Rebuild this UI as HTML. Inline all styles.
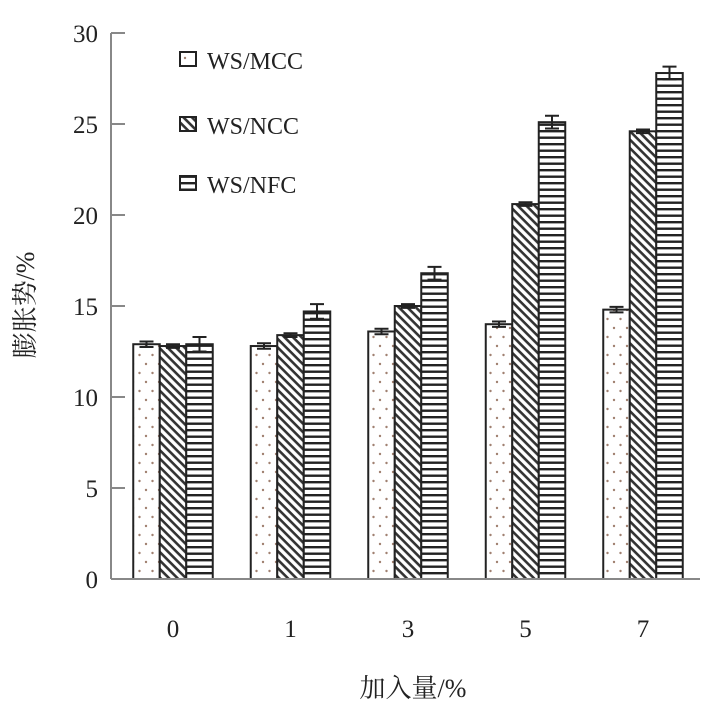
<!DOCTYPE html>
<html><head><meta charset="utf-8"><style>
body{margin:0;background:#fff;width:716px;height:711px;overflow:hidden}
text{font-family:"Liberation Serif","Noto Serif CJK SC",serif;fill:#222}
</style></head><body>
<svg id="chart" width="716" height="711" viewBox="0 0 716 711" xmlns="http://www.w3.org/2000/svg">
<defs>
<pattern id="pDots" width="13" height="18" patternUnits="userSpaceOnUse"><rect width="13" height="18" fill="#fff"/><circle cx="3" cy="4" r="1.2" fill="#a08070"/><circle cx="9.5" cy="13" r="1.2" fill="#a08070"/></pattern>
<pattern id="pDiag" width="6" height="6" patternUnits="userSpaceOnUse" patternTransform="rotate(45)"><rect width="6" height="6" fill="#fff"/><rect x="0" y="0" width="6" height="2.6" fill="#333"/></pattern>
<pattern id="pHor" width="6" height="6.5" patternUnits="userSpaceOnUse"><rect width="6" height="6.5" fill="#fff"/><rect x="0" y="0" width="6" height="2.4" fill="#222"/></pattern>
</defs>
<g id="bars"></g>
<g id="axes"></g>
<g id="legend">
<g><rect x="180" y="52" width="16" height="14" fill="url(#pDots)" stroke="#222" stroke-width="2"/><text x="207" y="69" font-size="24">WS/MCC</text></g>
<g><rect x="180" y="117" width="16" height="14" fill="url(#pDiag)" stroke="#222" stroke-width="2"/><text x="207" y="134" font-size="24">WS/NCC</text></g>
<g><rect x="180" y="176" width="16" height="14" fill="url(#pHor)" stroke="#222" stroke-width="2"/><text x="207" y="193" font-size="24">WS/NFC</text></g>
</g>
<text x="0" y="0" font-size="26" text-anchor="middle" transform="translate(34,305) rotate(-90)">膨胀势/%</text>
<text x="413" y="697" font-size="26" text-anchor="middle">加入量/%</text>
</svg>
<script>
const categories=["0","1","3","5","7"];
const seriesNames=["WS/MCC","WS/NCC","WS/NFC"];
const mcc=[12.9,12.8,13.6,14.0,14.8];
const ncc=[12.8,13.4,15.0,20.6,24.6];
const nfc=[12.9,14.7,16.8,25.1,27.8];
const mccErr=[0.15,0.15,0.15,0.15,0.15];
const nccErr=[0.1,0.1,0.1,0.1,0.1];
const nfcErr=[0.4,0.4,0.35,0.35,0.35];
const yTicks=[0,5,10,15,20,25,30];
const NS="http://www.w3.org/2000/svg";
const y0=579,y30=33,xAxis0=111,groupStart=173,groupStep=117.5,barW=26.5;
function yScale(v){return y0-(v/30)*(y0-y30);}
function xCenter(i){return groupStart+i*groupStep;}
function mk(tag,attrs,parent){const e=document.createElementNS(NS,tag);for(const k in attrs)e.setAttribute(k,attrs[k]);parent.appendChild(e);return e;}
const bars=document.getElementById('bars'),axes=document.getElementById('axes');
const series=[mcc,ncc,nfc],errs=[mccErr,nccErr,nfcErr],fills=["url(#pDots)","url(#pDiag)","url(#pHor)"],keys=["mcc","ncc","nfc"];
categories.forEach((c,i)=>{
  series.forEach((s,j)=>{
    const x=xCenter(i)-1.5*barW+j*barW,y=yScale(s[i]);
    const r=mk('rect',{x:x,y:y,width:barW,height:y0-y,fill:fills[j],stroke:"#222","stroke-width":2},bars);
    
    
    const cx=x+barW/2,e=errs[j][i],yt=yScale(s[i]+e),yb=yScale(s[i]-e);
    const g=mk('path',{d:`M${cx-7},${yt}H${cx+7}M${cx},${yt}V${yb}M${cx-7},${yb}H${cx+7}`,stroke:"#222","stroke-width":2,fill:"none"},bars);
    
    
  });
  const t=mk('text',{x:xCenter(i),y:637,"font-size":25,"text-anchor":"middle"},axes);t.textContent=c;
  
  
});
const ya=mk('line',{x1:xAxis0,y1:y30,x2:xAxis0,y2:y0,stroke:"#888","stroke-width":2},axes);


const xa=mk('line',{x1:xAxis0,y1:y0,x2:700,y2:y0,stroke:"#888","stroke-width":2},axes);


yTicks.forEach(v=>{
  const y=yScale(v);
  const tk=mk('line',{x1:xAxis0,y1:y,x2:xAxis0+14,y2:y,stroke:"#888","stroke-width":2},axes);
  
  
  const t=mk('text',{x:98,y:y+9,"font-size":25,"text-anchor":"end"},axes);t.textContent=v;
  
  
});
</script>
</body></html>
